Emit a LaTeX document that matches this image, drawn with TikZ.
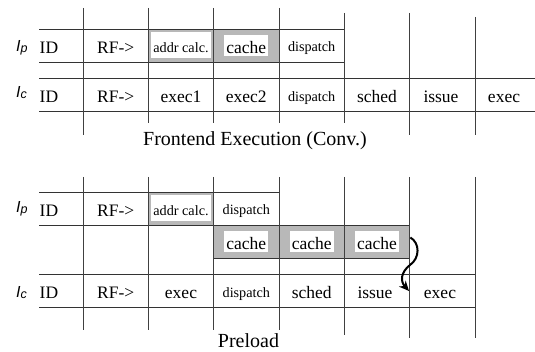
\documentclass[tikz,border=0pt]{standalone}
\usepackage{fontspec}
\setmainfont{Liberation Serif}
\setsansfont{Liberation Sans}
\usetikzlibrary{arrows.meta,calc}

\begin{document}
\begin{tikzpicture}[x=1pt,y=-1pt,
  rule/.style={line width=0.9pt, draw=black!80},
  vrule/.style={line width=1pt, draw=black!75},
  txt/.style={inner sep=0pt, text height=15.5pt, text depth=0pt, font=\fontsize{17.5}{20}\selectfont},
  smalltxt/.style={inner sep=0pt, text height=12pt, text depth=0pt, font=\fontsize{14.2}{16}\selectfont},
  shade/.style={fill=black!28, draw=none, inner sep=0pt, minimum width=65.33pt, minimum height=33pt},
  whitebox/.style={fill=white, inner xsep=2pt, inner ysep=1pt, text height=17.8pt, text depth=1.8pt, font=\fontsize{17.5}{20}\selectfont},
  whitesmall/.style={fill=white, inner xsep=2pt, inner ysep=2.5pt, minimum width=59pt, text height=18pt, text depth=3pt, font=\fontsize{14.2}{16}\selectfont},
  lab/.style={inner sep=0pt, anchor=base west, font=\sffamily\itshape\fontsize{16}{18}\selectfont},
  caption/.style={inner sep=0pt, anchor=base, font=\fontsize{20}{24}\selectfont},
  flow/.style={line width=2pt, -{Stealth[length=10pt,width=9pt]}}
]
\useasboundingbox (0,0) rectangle (535,352);

% ================= Frontend Execution (Conv.) =================
% shaded cells
\node[shade] (ta-sh) at (181,45.5) {};
\node[shade] (tc-sh) at (246.33,45.5) {};
\node[whitesmall] (ta-addr) at (181,45.5) {addr calc.};
\node[whitebox] (ta-cache) at (246.33,45.5) {cache};

% row lines
\draw[rule] (39,29) -- (344.33,29);
\draw[rule] (39,62) -- (344.33,62);
\draw[rule] (39,78) -- (535,78);
\draw[rule] (39,111) -- (535,111);

% vertical lines
\draw[vrule] (83,8) -- (83,135);
\draw[vrule] (148.33,8) -- (148.33,123);
\draw[vrule] (213.67,8) -- (213.67,123);
\draw[vrule] (279,8) -- (279,123);
\draw[vrule] (344.33,13) -- (344.33,123);
\draw[vrule] (409.67,13) -- (409.67,135);
\draw[vrule] (475,17) -- (475,135);

% labels
\node[lab] (t-ip) at (16,52) {I\raisebox{-1pt}{\fontsize{12.5}{13}\selectfont p}};
\node[lab] (t-ic) at (16,98) {I\raisebox{-1pt}{\fontsize{12.5}{13}\selectfont c}};

% Ip row texts
\node[txt, anchor=west] (ta-id) at (39.5,45.5) {ID};
\node[txt] (ta-rf) at (115.67,45.5) {RF->};
\node[smalltxt] (ta-disp) at (311.67,45.5) {dispatch};

% Ic row texts
\node[txt, anchor=west] (tb-id) at (39.5,94.5) {ID};
\node[txt] (tb-rf) at (115.67,94.5) {RF->};
\node[txt] (tb-ex1) at (181,94.5) {exec1};
\node[txt] (tb-ex2) at (246.33,94.5) {exec2};
\node[smalltxt, text height=14pt] (tb-disp) at (311.67,94.5) {dispatch};
\node[txt] (tb-sched) at (377,94.5) {sched};
\node[txt] (tb-issue) at (441,94.5) {issue};
\node[txt] (tb-exec) at (504,94.5) {exec};

\node[caption] (cap1) at (255,146) {Frontend Execution (Conv.)};

% ================= Preload =================
\node[shade] (ba-sh) at (181,208.5) {};
\node[whitesmall] (ba-addr) at (181,208.5) {addr calc.};
\node[shade] (c1-sh) at (246.33,241.5) {};
\node[shade] (c2-sh) at (311.67,241.5) {};
\node[shade] (c3-sh) at (377,241.5) {};
\node[whitebox] (c1) at (246.33,241.5) {cache};
\node[whitebox] (c2) at (311.67,241.5) {cache};
\node[whitebox] (c3) at (377,241.5) {cache};

% row lines
\draw[rule] (39,192) -- (279,192);
\draw[rule] (39,225) -- (409.67,225);
\draw[rule] (213.67,258) -- (409.67,258);
\draw[rule] (39,274) -- (475,274);
\draw[rule] (39,307) -- (475,307);

% vertical lines
\draw[vrule] (83,177) -- (83,330);
\draw[vrule] (148.33,177) -- (148.33,330);
\draw[vrule] (213.67,177) -- (213.67,330);
\draw[vrule] (279,177) -- (279,330);
\draw[vrule] (344.33,177) -- (344.33,335);
\draw[vrule] (409.67,177) -- (409.67,338);
\draw[vrule] (475,177) -- (475,338);

% labels
\node[lab] (b-ip) at (16,213) {I\raisebox{-1pt}{\fontsize{12.5}{13}\selectfont p}};
\node[lab] (b-ic) at (16,297.5) {I\raisebox{-1pt}{\fontsize{12.5}{13}\selectfont c}};

% Ip row texts
\node[txt, anchor=west] (ba-id) at (39.5,208.5) {ID};
\node[txt] (ba-rf) at (115.67,208.5) {RF->};
\node[smalltxt] (ba-disp) at (246.33,208.5) {dispatch};

% Ic row texts
\node[txt, anchor=west] (bb-id) at (39.5,290.5) {ID};
\node[txt] (bb-rf) at (115.67,290.5) {RF->};
\node[txt] (bb-exec) at (181,290.5) {exec};
\node[smalltxt, text height=14pt] (bb-disp) at (246.33,290.5) {dispatch};
\node[txt] (bb-sched) at (311.67,290.5) {sched};
\node[txt] (bb-issue) at (375,290.5) {issue};
\node[txt] (bb-exec2) at (440,290.5) {exec};

% curved arrow
\coordinate (arr-end) at (409,291);
\draw[flow] ($(c3-sh.east)+(0.5,-4)$) .. controls (420,243) and (420,258) .. (410,265)
  .. controls (401,272) and (400,281) .. (arr-end);

\node[caption] (cap2) at (248.5,347) {Preload};
\end{tikzpicture}
\end{document}
